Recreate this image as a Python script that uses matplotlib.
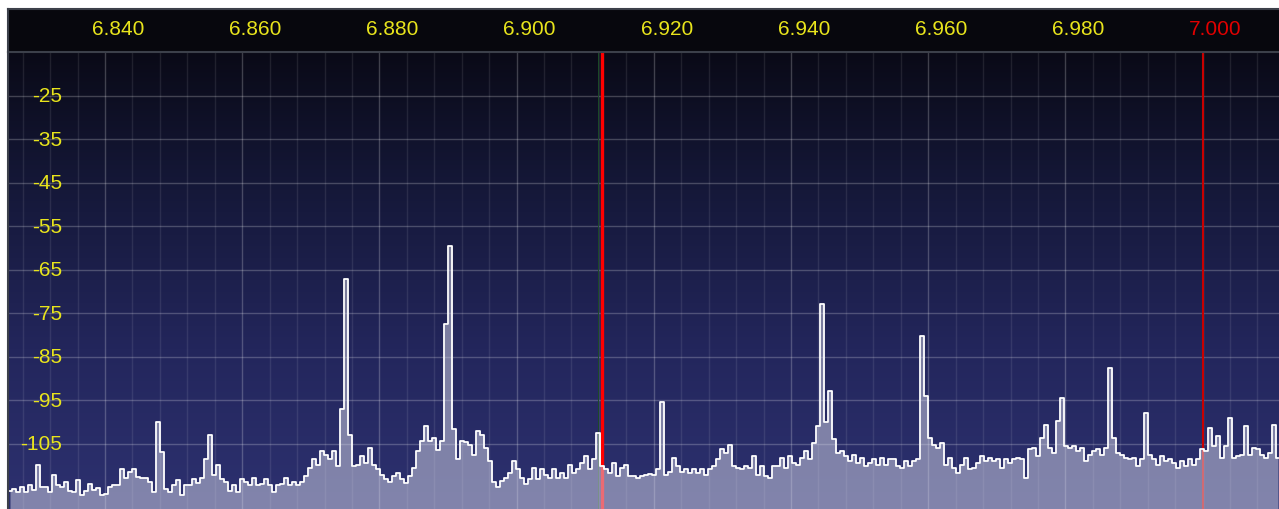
import numpy as np
import matplotlib.pyplot as plt
from matplotlib.colors import LinearSegmentedColormap
from matplotlib.transforms import blended_transform_factory

# Espectro (MHz, dB), un valor por bin
f_start = 6.82615
f_stop = 7.01099
levels = [
    # 6.826 - 6.863
    -115.8, -115.5, -116.0, -114.9, -116.2, -114.6, -115.6, -110.0, -115.0, -115.0,
    -116.2, -112.3, -114.6, -115.0, -113.9, -115.8, -116.2, -113.4, -116.7, -115.8,
    -114.3, -115.6, -115.1, -116.7, -116.5, -115.0, -114.4, -114.6, -110.7, -112.8,
    -111.4, -110.9, -112.7, -112.8, -112.8, -113.9, -116.2, -100.0, -107.0, -115.5,
    -116.0, -114.4, -113.4, -116.7, -114.6, -114.4, -113.2, -114.1, -112.8, -108.5,
    -103.0, -112.1, -109.8, -113.2, -113.9, -115.8, -114.6, -116.2, -113.2, -113.9,
    -114.4, -112.8, -114.4, -114.3,
    # 6.863 - 6.900
    -113.2, -114.6, -116.2, -114.6, -114.3, -112.8, -114.6, -113.9, -114.6, -113.9,
    -112.4, -110.5, -108.6, -109.8, -106.7, -107.5, -108.6, -106.7, -110.1, -97.0,
    -67.1, -103.0, -110.1, -109.8, -107.8, -109.4, -105.9, -109.8, -110.9, -112.1,
    -113.2, -113.9, -112.4, -111.8, -113.2, -114.1, -112.4, -110.5, -106.7, -104.3,
    -100.9, -104.3, -103.6, -106.4, -104.3, -77.6, -59.6, -101.7, -108.6, -104.3,
    -104.6, -105.3, -107.5, -102.0, -103.1, -105.9, -109.0, -113.9, -115.0, -113.6,
    -112.8, -111.8, -109.0, -110.9,
    # 6.900 - 6.937
    -112.8, -114.3, -113.2, -110.5, -113.2, -110.9, -112.1, -112.8, -110.9, -112.8,
    -111.8, -112.8, -109.8, -111.8, -110.9, -109.4, -107.8, -110.9, -108.6, -102.5,
    -110.1, -110.9, -111.8, -109.4, -112.4, -110.5, -109.8, -112.4, -112.4, -112.8,
    -112.4, -112.1, -112.0, -112.1, -110.9, -95.4, -112.1, -111.4, -108.2, -110.1,
    -111.4, -110.9, -111.8, -110.9, -111.8, -110.9, -112.1, -110.9, -110.1, -108.6,
    -106.3, -107.1, -105.3, -110.1, -110.5, -110.9, -110.1, -110.5, -107.8, -112.1,
    -110.1, -112.4, -112.8, -110.1,
    # 6.937 - 6.974
    -110.1, -108.2, -110.5, -107.8, -109.4, -109.8, -108.2, -106.7, -108.6, -104.8,
    -100.9, -72.9, -100.0, -92.8, -104.0, -107.1, -106.7, -107.8, -109.0, -107.5,
    -109.4, -108.2, -110.1, -109.4, -108.6, -109.8, -108.2, -109.8, -108.6, -108.6,
    -110.1, -110.5, -109.0, -110.1, -109.0, -108.6, -80.2, -94.0, -103.6, -105.3,
    -105.9, -104.8, -109.8, -108.2, -110.5, -111.8, -109.8, -108.2, -110.9, -110.5,
    -109.4, -107.8, -109.0, -108.2, -109.0, -108.6, -110.5, -108.6, -109.4, -108.6,
    -108.2, -108.6, -112.8, -106.3,
    # 6.974 - 7.011
    -105.9, -107.8, -103.6, -100.6, -105.9, -107.1, -99.8, -94.5, -105.5, -105.9,
    -105.5, -106.7, -105.9, -109.0, -107.5, -106.7, -106.3, -107.5, -105.9, -87.6,
    -103.6, -107.1, -107.5, -108.2, -108.6, -108.2, -110.1, -108.6, -98.0, -107.5,
    -108.6, -109.8, -107.8, -109.0, -108.6, -109.4, -110.5, -109.0, -110.1, -108.6,
    -109.8, -108.6, -106.3, -106.7, -101.3, -105.5, -103.2, -108.2, -105.5, -99.0,
    -108.2, -107.8, -107.5, -101.0, -107.5, -105.9, -106.3, -107.5, -108.2, -107.1,
    -100.6, -108.2,
]

freq_ticks = [6.840, 6.860, 6.880, 6.900, 6.920, 6.940, 6.960, 6.980, 7.000]
freq_labels = ["6.840", "6.860", "6.880", "6.900", "6.920", "6.940", "6.960", "6.980", "7.000"]
db_ticks = [-25, -35, -45, -55, -65, -75, -85, -95, -105]
db_labels = ["-25", "-35", "-45", "-55", "-65", "-75", "-85", "-95", "-105"]
tuned_freq = 6.9124
filter_edge = 6.9118
band_edge = 7.000

# Limites visibles
x_min, x_max = 6.82586, 7.01114
y_min, y_max = -120, -15

yellow = "#e8e41c"
font = "Liberation Sans"

W, H = 1279, 510
fig = plt.figure(figsize=(W / 100, H / 100), dpi=100, facecolor="white")
ax = fig.add_axes([8 / W, 0, 1271 / W, 457 / H])
hdr = fig.add_axes([8 / W, 457 / H, 1271 / W, 43 / H])

# Fondo degradado
bg_cmap = LinearSegmentedColormap.from_list(
    "bg", [(0.0, "#0a0a17"), (0.3, "#151839"), (0.65, "#23265c"), (1.0, "#2d3170")])
grad = np.linspace(0, 1, 256)[:, None]
ax.imshow(grad, extent=[x_min, x_max, y_min, y_max], aspect="auto",
          cmap=bg_cmap, origin="upper", zorder=0, interpolation="bilinear")

# Rejilla
for f in np.arange(6.828, 7.0105, 0.004):
    major = abs(round(f / 0.02) * 0.02 - f) < 1e-6
    ax.axvline(f, color="white", alpha=0.22 if major else 0.09, lw=1, zorder=1)
for db in db_ticks:
    ax.axhline(db, color="white", alpha=0.22, lw=1, zorder=1)

# Marcadores de sintonia y borde de banda
ax.axvline(filter_edge, color="#1c4a28", lw=0.7, zorder=2)
ax.axvline(tuned_freq, color="#ff0000", lw=2.4, zorder=2)
ax.axvline(band_edge, color="#c80000", lw=1.5, zorder=2)

# Traza
freqs = np.linspace(f_start, f_stop, len(levels))
ax.fill_between(freqs, levels, y_min, step="mid", color="#d6d7e8",
                alpha=0.5, lw=0, zorder=3)
ax.plot(freqs, levels, drawstyle="steps-mid", color="white", lw=1.3, zorder=4)

ax.set_xlim(x_min, x_max)
ax.set_ylim(y_min, y_max)
ax.set_xticks([])
ax.set_yticks([])
for side in ["top", "right", "bottom"]:
    ax.spines[side].set_visible(False)
ax.spines["left"].set_color("#3c404a")
ax.spines["left"].set_linewidth(1.5)

trans = blended_transform_factory(ax.transAxes, ax.transData)
for db, lab in zip(db_ticks, db_labels):
    ax.text(0.0425, db, lab, transform=trans, ha="right", va="center",
            color=yellow, fontsize=15, family=font, zorder=6)

# Cabecera con frecuencias
hdr.set_facecolor("#07070d")
hdr.set_xlim(x_min, x_max)
hdr.set_ylim(0, 1)
hdr.set_xticks([])
hdr.set_yticks([])
for side in ["top", "left", "bottom"]:
    hdr.spines[side].set_color("#3c404a")
    hdr.spines[side].set_linewidth(1.5)
hdr.spines["right"].set_visible(False)
for f, lab in zip(freq_ticks, freq_labels):
    col = "#e00000" if f == band_edge else yellow
    hdr.text(f + 0.0019, 0.55, lab, ha="center", va="center",
             color=col, fontsize=15, family=font)

fig.savefig("out.png", dpi=100, facecolor="white")
